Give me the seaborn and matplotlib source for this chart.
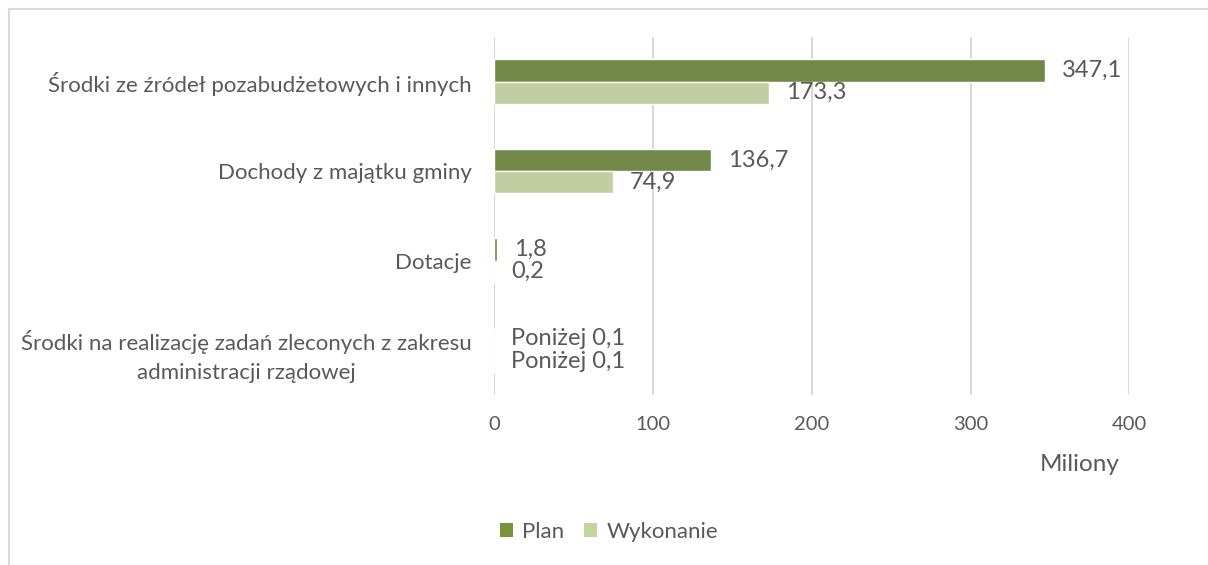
import pandas as pd
import seaborn as sns
import matplotlib.pyplot as plt
from matplotlib.lines import Line2D
from matplotlib.patches import Patch

categories = [
    "Środki ze źródeł pozabudżetowych i innych",
    "Dochody z majątku gminy",
    "Dotacje",
    "Środki na realizację zadań zleconych z zakresu\nadministracji rządowej",
]
plan = [347.1, 136.7, 1.8, 0.0]
wykonanie = [173.3, 74.9, 0.2, 0.0]
plan_labels = ["347,1", "136,7", "1,8", "Poniżej 0,1"]
wykonanie_labels = ["173,3", "74,9", "0,2", "Poniżej 0,1"]
series = ["Plan", "Wykonanie"]
colors = ["#77933C", "#C3D69B"]
ticks = [0, 100, 200, 300, 400]

df = pd.DataFrame({
    "kategoria": categories * 2,
    "wartosc": plan + wykonanie,
    "seria": [series[0]] * 4 + [series[1]] * 4,
})

sns.set_style("white")
plt.rcParams["font.family"] = ["Lato", "DejaVu Sans"]
txt = "#595959"

fig = plt.figure(figsize=(12.08, 5.65), dpi=100)
ax = fig.add_axes([0.409, 0.301, 0.526, 0.634])

sns.barplot(data=df, y="kategoria", x="wartosc", hue="seria", palette=colors,
            orient="h", width=0.5, gap=0, ax=ax, legend=False)

ax.set_xlim(0, 400)
ax.set_ylim(3.5, -0.5)
ax.set_xticks(ticks)
ax.grid(axis="x", color="#D9D9D9", linewidth=1.5)
ax.set_axisbelow(True)
for s in ax.spines.values():
    s.set_visible(False)
ax.tick_params(axis="x", length=0, pad=15, labelsize=14.5, labelcolor=txt)
ax.tick_params(axis="y", length=0, pad=16, labelsize=16, labelcolor=txt)
for lab in ax.get_yticklabels():
    lab.set_multialignment("center")
    lab.set_linespacing(1.55)
ax.set_xlabel("")
ax.set_ylabel("")

for cont, labs in zip(ax.containers, [plan_labels, wykonanie_labels]):
    ax.bar_label(cont, labels=labs, padding=12, fontsize=17, color=txt)

fig.text(0.894, 0.177, "Miliony", fontsize=17.5, color=txt, ha="center", va="center")

handles = [Patch(facecolor=c, edgecolor="none") for c in colors]
fig.legend(handles, series, loc="center", bbox_to_anchor=(0.504, 0.058), ncol=2,
           frameon=False, fontsize=16, labelcolor=txt, handlelength=0.6,
           handleheight=0.6, handletextpad=0.4, columnspacing=0.9)

# ramka wykresu (widoczna tylko góra i lewa strona)
fig.add_artist(Line2D([9 / 1208, 1], [1 - 9 / 565] * 2, color="#D9D9D9", linewidth=1.5))
fig.add_artist(Line2D([9 / 1208] * 2, [0, 1 - 9 / 565], color="#D9D9D9", linewidth=1.5))

fig.savefig("out.png", dpi=100)
